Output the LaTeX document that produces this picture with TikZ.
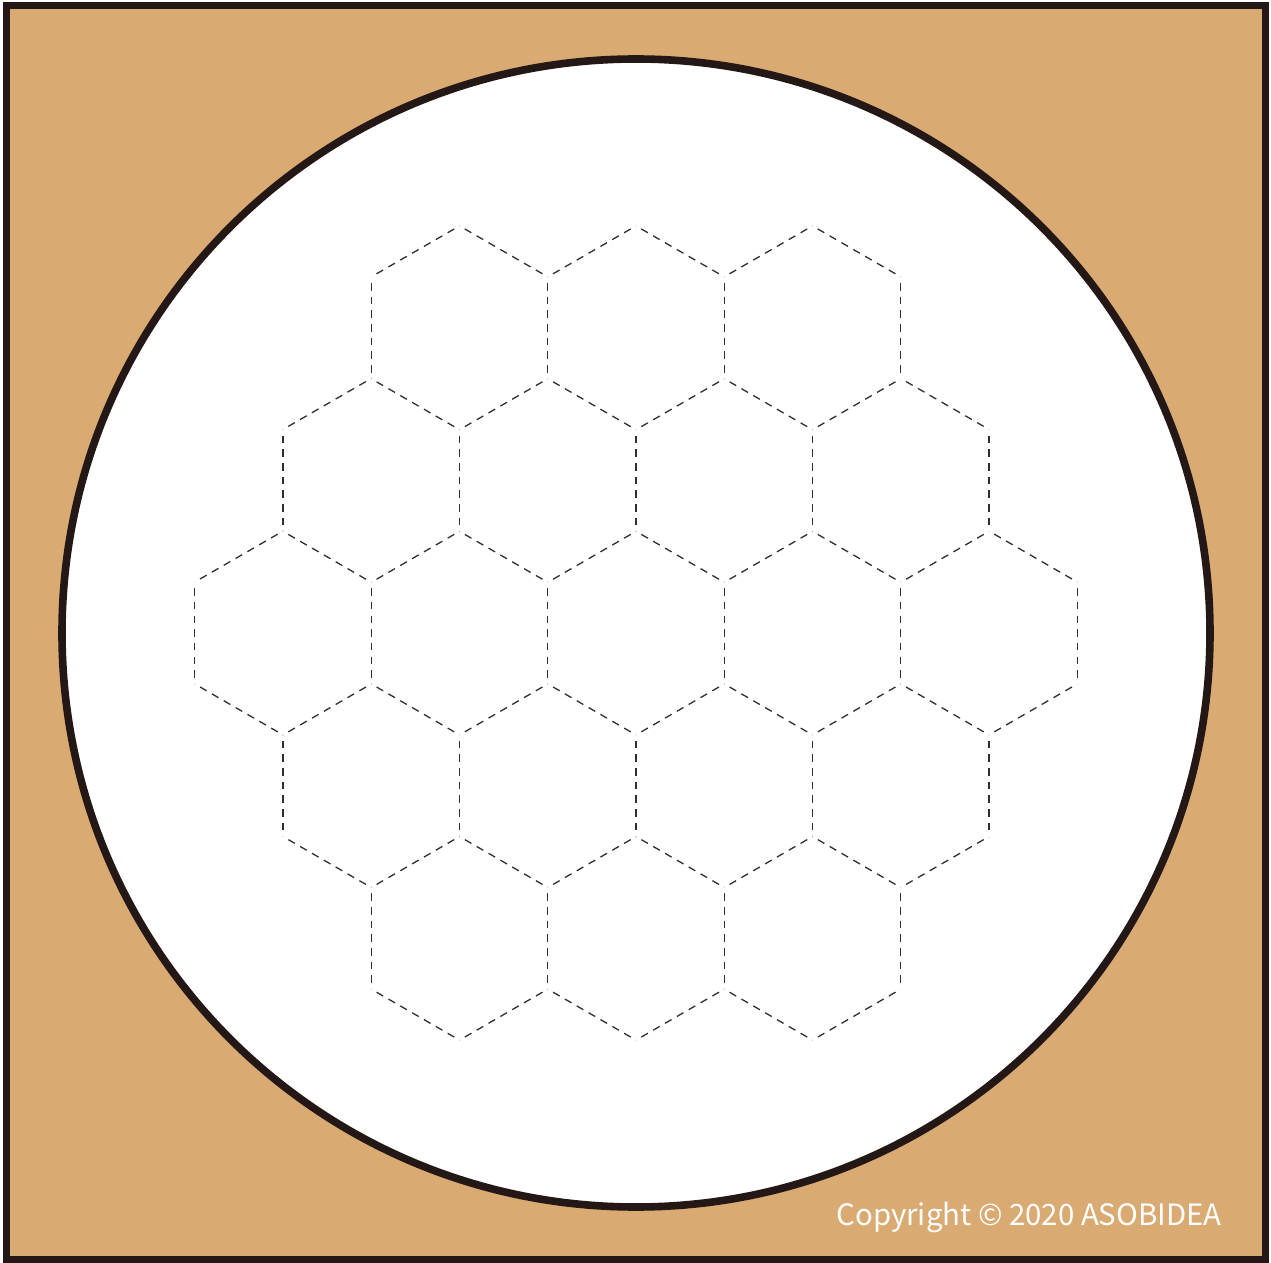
\documentclass[tikz,border=0pt]{standalone}
\usepackage{xcolor}
\usepackage{fontspec}
\usepackage{tikz}
\usetikzlibrary{calc, decorations}
\newfontfamily\notofont{Noto Sans CJK JP}
\definecolor{boardtan}{RGB}{217, 170, 114}
\definecolor{inkdark}{RGB}{35, 24, 21}
\definecolor{dashgray}{RGB}{50, 46, 45}
\tikzset{
    frame/.style = {draw=inkdark, fill=boardtan, line width=3.5pt},
    disc/.style = {draw=inkdark, fill=white, line width=3.8pt},
    hexline/.style = {draw=dashgray, line width=0.65pt, dash pattern=on 3.8pt off 2.4pt, dash expand off},
    credit/.style = {text=white, font=\notofont\fontsize{14.7}{17}\selectfont, anchor=east, inner sep=0pt}
}

\begin{document}
\begin{tikzpicture}[x=0.5pt, y=-0.5pt]
\useasboundingbox (0,0) rectangle (1271,1263);
\draw [frame] (6.5,5.5) rectangle (1265.5,1259);
\draw [disc] (636,633) circle (574);

% honeycomb of 19 cells, every shared edge drawn once
\foreach \r in {-2,...,2} {
    \pgfmathtruncatemacro\last{4-abs(\r)}
    \foreach \c in {0,...,\last} {
        \coordinate (cell) at ({636+176.5*(\c-\last/2)}, {633+152.6*\r});
        \foreach \k in {0,...,5} {
            \pgfmathtruncatemacro\hide{(\k==2)*(\c>0) + (\k==3)*((\r>0) || ((\r>-2) && (\c>0))) + (\k==4)*((\r>0) || ((\r>-2) && (\c<\last)))}
            \ifnum\hide=0
                \draw [hexline] ($(cell)+(30+60*\k:101.9)$) -- ($(cell)+(90+60*\k:101.9)$);
            \fi
        }
    }
}

\node (copy) [credit] at (1222,1217) {Copyright © 2020 ASOBIDEA};
\end{tikzpicture}
\end{document}
